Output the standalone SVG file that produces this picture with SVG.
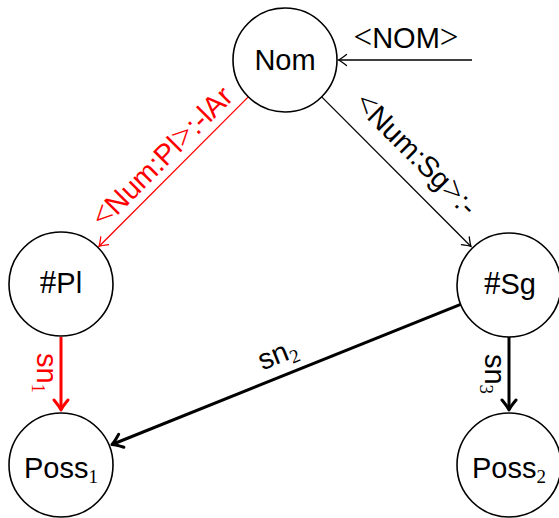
<svg xmlns="http://www.w3.org/2000/svg" width="559" height="518" viewBox="0 0 559 518">
  <style>
    .state { fill: #ffffff; stroke: #000000; stroke-width: 1.6; }
    .lbl { font-family: "Liberation Sans", Arial, sans-serif; font-size: 29px; fill: #000000; }
    .math { font-family: "Liberation Serif", "Times New Roman", serif; font-size: 33px; }
    .sub { font-family: "Liberation Serif", "Times New Roman", serif; font-size: 19px; }
    .red { fill: #ff0000; }
    .edge { fill: none; stroke: #000000; stroke-width: 1.3; }
    .edge.thick { stroke-width: 3; }
    .edge.r { stroke: #ff0000; }
  </style>
  <defs>
    <marker id="to" markerUnits="userSpaceOnUse" viewBox="-12 -8 14 16" refX="0" refY="0" markerWidth="14" markerHeight="16" orient="auto" overflow="visible">
      <path d="M -8,-5.5 Q -2.5,-1.2 0,0 Q -2.5,1.2 -8,5.5" fill="none" stroke="#000000" stroke-width="1.3" stroke-linecap="round"/>
    </marker>
    <marker id="to-red" markerUnits="userSpaceOnUse" viewBox="-12 -8 14 16" refX="0" refY="0" markerWidth="14" markerHeight="16" orient="auto" overflow="visible">
      <path d="M -8,-5.5 Q -2.5,-1.2 0,0 Q -2.5,1.2 -8,5.5" fill="none" stroke="#ff0000" stroke-width="1.3" stroke-linecap="round"/>
    </marker>
    <marker id="to-thick" markerUnits="userSpaceOnUse" viewBox="-16 -10 18 20" refX="0" refY="0" markerWidth="18" markerHeight="20" orient="auto" overflow="visible">
      <path d="M -10,-7 Q -3.5,-1.6 0,0 Q -3.5,1.6 -10,7" fill="none" stroke="#000000" stroke-width="3" stroke-linecap="round" stroke-linejoin="round"/>
    </marker>
    <marker id="to-thick-red" markerUnits="userSpaceOnUse" viewBox="-16 -10 18 20" refX="0" refY="0" markerWidth="18" markerHeight="20" orient="auto" overflow="visible">
      <path d="M -10,-7 Q -3.5,-1.6 0,0 Q -3.5,1.6 -10,7" fill="none" stroke="#ff0000" stroke-width="3" stroke-linecap="round" stroke-linejoin="round"/>
    </marker>
  </defs>

  <!-- transitions -->
  <g id="edges">
    <line class="edge" x1="472" y1="60" x2="338.5" y2="60" marker-end="url(#to)"/>
    <text class="lbl" x="406" y="48" text-anchor="middle"><tspan class="math">&lt;</tspan>NOM<tspan class="math">&gt;</tspan></text>

    <line class="edge r" x1="248.3" y1="96.9" x2="99" y2="246.5" marker-end="url(#to-red)"/>
    <text class="lbl red" transform="translate(169,164) rotate(-45)" text-anchor="middle"><tspan class="math">&lt;</tspan>Num:Pl<tspan class="math">&gt;</tspan>:-lAr</text>

    <line class="edge" x1="321.7" y1="96.9" x2="471" y2="246.5" marker-end="url(#to)"/>
    <text class="lbl" transform="translate(409,161) rotate(45)" text-anchor="middle"><tspan class="math">&lt;</tspan>Num:Sg<tspan class="math">&gt;</tspan>:-</text>

    <line class="edge thick r" x1="61" y1="337" x2="61" y2="410" marker-end="url(#to-thick-red)"/>
    <text class="lbl red" transform="translate(37,373) rotate(90)" text-anchor="middle">sn<tspan class="sub" dy="5">1</tspan></text>

    <line class="edge thick" x1="509" y1="337" x2="509" y2="410" marker-end="url(#to-thick)"/>
    <text class="lbl" transform="translate(485,374) rotate(90)" text-anchor="middle">sn<tspan class="sub" dy="5">3</tspan></text>

    <line class="edge thick" x1="460.7" y1="304.4" x2="112" y2="444.5" marker-end="url(#to-thick)"/>
    <text class="lbl" transform="translate(281,363) rotate(-21.9)" text-anchor="middle">sn<tspan class="sub" dy="5">2</tspan></text>
  </g>

  <!-- states -->
  <g id="Nom">
    <circle class="state" cx="285" cy="60" r="52"/>
    <text class="lbl" x="285" y="70" text-anchor="middle">Nom</text>
  </g>
  <g id="Pl">
    <circle class="state" cx="61" cy="284" r="52"/>
    <text class="lbl" x="61" y="293" text-anchor="middle"><tspan class="math">#</tspan>Pl</text>
  </g>
  <g id="Sg">
    <circle class="state" cx="509" cy="285" r="52"/>
    <text class="lbl" x="510" y="294" text-anchor="middle"><tspan class="math">#</tspan>Sg</text>
  </g>
  <g id="Poss1">
    <circle class="state" cx="61" cy="465" r="52"/>
    <text class="lbl" x="61" y="478" text-anchor="middle">Poss<tspan class="sub" dy="5">1</tspan></text>
  </g>
  <g id="Poss2">
    <circle class="state" cx="509" cy="465" r="52"/>
    <text class="lbl" x="509" y="478" text-anchor="middle">Poss<tspan class="sub" dy="5">2</tspan></text>
  </g>
</svg>
